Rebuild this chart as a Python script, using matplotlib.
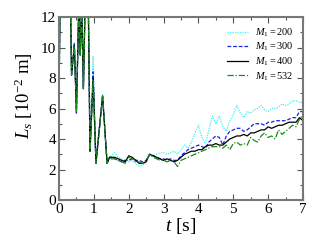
import matplotlib
matplotlib.use("Agg")
import matplotlib.pyplot as plt
import numpy as np
from matplotlib.ticker import MultipleLocator

plt.rcParams['font.family'] = ['Liberation Serif', 'DejaVu Serif']
plt.rcParams['mathtext.fontset'] = 'custom'
plt.rcParams['mathtext.rm'] = 'Liberation Serif'
plt.rcParams['mathtext.it'] = 'Liberation Serif:italic'

# time points [s]
t_early = [0.0, 0.03, 0.33, 0.36, 0.44, 0.50, 0.57, 0.61, 0.65, 0.70, 0.75, 0.84, 0.89, 0.98, 1.06, 1.15, 1.25, 1.38, 1.45]
t_late = [1.5, 1.6, 1.7, 1.8, 1.9, 2.0, 2.1, 2.2, 2.3, 2.4, 2.5, 2.6, 2.7, 2.8, 2.9,
          3.0, 3.1, 3.2, 3.3, 3.4, 3.5, 3.6, 3.7, 3.8, 3.9, 4.0, 4.1, 4.2, 4.3, 4.4,
          4.5, 4.6, 4.7, 4.8, 4.9, 5.0, 5.1, 5.2, 5.3, 5.4, 5.5, 5.6, 5.7, 5.8, 5.9,
          6.0, 6.1, 6.2, 6.3, 6.4, 6.5, 6.6, 6.7, 6.8, 6.9, 7.0]

# L_s [1e-2 m]
early_200 = [6.6, 13, 13, 8.2, 10.3, 5.7, 13, 9.5, 13, 7.3, 13, 13, 3.2, 9.4, 2.4, 4.5, 6.9, 2.4, 2.8]
early_300 = [6.6, 13, 13, 8.2, 10.3, 5.7, 13, 9.5, 13, 7.3, 13, 13, 3.2, 8.4, 2.4, 4.5, 6.9, 2.4, 2.8]
early_400 = [6.6, 13, 13, 8.2, 10.1, 5.8, 13, 9.5, 13, 7.3, 13, 13, 3.2, 8.0, 2.4, 4.5, 6.8, 2.4, 2.8]
early_532 = [6.6, 13, 13, 8.2, 10.1, 5.8, 13, 9.5, 13, 7.3, 13, 13, 3.2, 7.8, 2.4, 4.5, 6.8, 2.4, 2.8]

late_200 = [2.9, 3.1, 2.8, 2.7, 2.6, 2.5, 2.6, 2.4, 2.2, 2.3, 2.5, 3.0, 2.9, 3.0, 3.1,
            3.1, 3.0, 3.1, 3.2, 3.0, 3.3, 3.6, 3.4, 3.8, 4.4, 4.9, 4.1, 3.7, 4.6, 5.5,
            5.0, 5.5, 4.8, 4.5, 5.2, 5.6, 6.2, 5.7, 5.4, 5.8, 5.7, 5.9, 6.0, 6.2, 5.9,
            5.8, 6.0, 6.0, 6.1, 6.3, 6.2, 6.3, 6.5, 6.5, 6.4, 6.4]
late_300 = [2.8, 2.7, 2.6, 2.5, 2.6, 2.6, 2.7, 2.6, 2.6, 2.5, 2.6, 3.0, 2.9, 2.8, 2.7,
            2.7, 2.6, 2.7, 2.6, 2.6, 2.9, 3.1, 3.3, 3.4, 3.5, 3.6, 3.5, 3.4, 3.8, 4.0,
            4.2, 4.1, 3.6, 4.2, 4.5, 4.6, 4.7, 4.7, 4.5, 4.6, 4.8, 5.0, 5.0, 5.0, 4.9,
            5.1, 5.1, 5.2, 5.2, 5.2, 5.2, 5.3, 5.4, 5.4, 5.8, 5.8]
late_400 = [2.8, 2.8, 2.7, 2.6, 2.5, 2.9, 2.8, 2.6, 2.4, 2.4, 2.5, 3.0, 2.9, 2.8, 2.7,
            2.6, 2.7, 2.6, 2.5, 2.6, 2.8, 3.0, 3.1, 3.2, 3.2, 3.3, 3.3, 3.5, 3.6, 3.6,
            3.7, 3.6, 3.6, 3.8, 4.0, 4.1, 4.2, 4.2, 4.3, 4.2, 4.4, 4.4, 4.5, 4.6, 4.6,
            4.8, 4.7, 4.8, 4.9, 4.9, 5.0, 5.1, 5.1, 5.1, 5.4, 5.2]
late_532 = [2.7, 2.7, 2.6, 2.5, 2.4, 2.8, 2.7, 2.5, 2.5, 2.4, 2.6, 3.0, 2.8, 2.7, 2.6,
            2.6, 2.5, 2.6, 2.5, 2.2, 2.6, 2.7, 2.8, 2.9, 3.0, 3.1, 3.2, 3.3, 3.4, 3.5,
            3.5, 3.5, 3.4, 3.6, 3.3, 3.7, 3.8, 3.6, 3.7, 3.6, 4.1, 3.9, 3.8, 4.2, 4.4,
            4.1, 4.2, 4.0, 4.6, 4.3, 4.5, 4.7, 4.9, 4.8, 5.3, 5.6]

labels = [r'$M_1 = 200$', r'$M_1 = 300$', r'$M_1 = 400$', r'$M_1 = 532$']

t = t_early + t_late
series = [early_200 + late_200, early_300 + late_300, early_400 + late_400, early_532 + late_532]
colors = ['#40f0f0', '#1f1fe6', '#000000', '#1a8c1a']
styles = [(0, (1, 1)), (0, (3, 1.5)), '-', (0, (5, 1.5, 1, 1.5))]

fig = plt.figure(figsize=(3.27, 2.45), dpi=100)
ax = fig.add_axes([59/327, 1 - 200/245, 244/327, 183/245])

for y, c, ls, lab in zip(series, colors, styles, labels):
    ax.plot(t, y, color=c, linestyle=ls, linewidth=0.9, label=lab)

ax.set_xlim(0, 7)
ax.set_ylim(0, 12)
ax.xaxis.set_major_locator(MultipleLocator(1))
ax.xaxis.set_minor_locator(MultipleLocator(0.5))
ax.yaxis.set_major_locator(MultipleLocator(2))
ax.yaxis.set_minor_locator(MultipleLocator(1))
ax.tick_params(which='both', direction='in', top=True, right=True, labelsize=11, pad=2)
ax.tick_params(which='major', length=4, width=0.8, color='#555555')
ax.tick_params(which='minor', length=2, width=0.8, color='#555555')
for s in ax.spines.values():
    s.set_color('#777777')
    s.set_linewidth(1.5)

ax.set_xlabel(r'$t$ [s]', fontsize=14, labelpad=0)
ax.set_ylabel(r'$L_s$ [10$^{-2}$ m]', fontsize=13.5)
ax.yaxis.set_label_coords(-0.10, 0.57)

leg = ax.legend(loc='upper right', frameon=False, fontsize=7.5, handlelength=2.0,
                handletextpad=0.7, labelspacing=0.2, borderaxespad=0.5)

fig.savefig('out.png', dpi=100)
